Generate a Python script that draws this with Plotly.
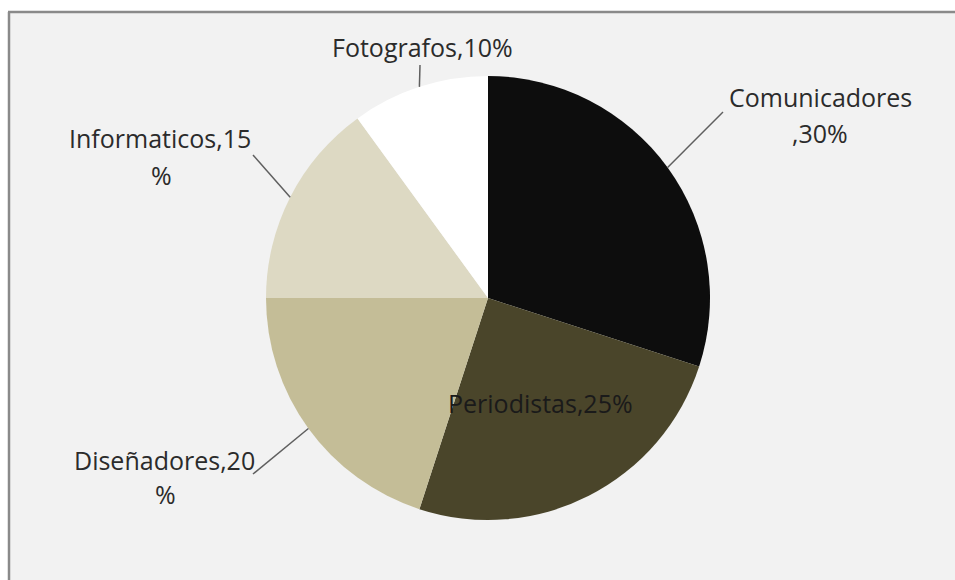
import math
import plotly.graph_objects as go

# datos del gráfico
categorias = ["Comunicadores", "Periodistas", "Diseñadores", "Informaticos", "Fotografos"]
porcentajes = [30, 25, 20, 15, 10]
colores = ["#0d0d0d", "#4a452a", "#c4bd97", "#ddd9c3", "#ffffff"]

W, H = 955, 580
CX, CY, R = 488, 298, 222  # centro y radio del pie en píxeles


def px(x):
    return x / W


def py(y):
    return 1 - y / H


fig = go.Figure(go.Pie(
    labels=categorias,
    values=porcentajes,
    marker=dict(colors=colores, line=dict(width=0)),
    sort=False,
    direction="clockwise",
    rotation=0,
    textinfo="none",
    hoverinfo="label+percent",
    showlegend=False,
    domain=dict(x=[px(CX - R), px(CX + R)], y=[py(CY + R), py(CY - R)]),
))

# ángulo medio de cada porción (desde las 12, sentido horario)
total = sum(porcentajes)
acum = 0
medios = []
for v in porcentajes:
    medios.append((acum + v / 2) / total * 2 * math.pi)
    acum += v


def borde(ang, f=1.0):
    return CX + f * R * math.sin(ang), CY - f * R * math.cos(ang)


txt_font = dict(family="Open Sans, Calibri, sans-serif", size=25, color="#2b2b2b")

# etiquetas exteriores: (líneas de texto con su centro, extremo de la línea guía)
exteriores = {
    "Comunicadores": ([("Comunicadores", 820, 97), (",30%", 820, 133)], (723, 112)),
    "Diseñadores": ([("Diseñadores,20", 164, 460), ("%", 165, 494)], (253, 474)),
    "Informaticos": ([("Informaticos,15", 160, 138), ("%", 161, 175)], (253, 155)),
    "Fotografos": ([("Fotografos,10%", 422, 47)], (420, 65)),
}


def texto(t, x, y, color="#2b2b2b"):
    fig.add_annotation(x=px(x), y=py(y), xref="paper", yref="paper",
                       text=t, showarrow=False, font=dict(txt_font, color=color),
                       xanchor="center", yanchor="middle")


for i, cat in enumerate(categorias):
    if cat in exteriores:
        lineas, (lx, ly) = exteriores[cat]
        bx, by = borde(medios[i])
        fig.add_shape(type="line", xref="paper", yref="paper",
                      x0=px(bx), y0=py(by), x1=px(lx), y1=py(ly),
                      line=dict(color="#5f5f5f", width=1.5))
        for t, x, y in lineas:
            texto(t, x, y)
    else:
        bx, by = borde(medios[i], 0.52)
        texto(f"{cat},{porcentajes[i]}%", bx, by + 2, color="#1a1a1a")

# marco estilo Excel (franja blanca arriba e izquierda, borde gris)
fig.add_shape(type="rect", xref="paper", yref="paper", x0=0, x1=1, y0=py(11), y1=1,
              fillcolor="white", line=dict(width=0), layer="below")
fig.add_shape(type="rect", xref="paper", yref="paper", x0=0, x1=px(8), y0=0, y1=1,
              fillcolor="white", line=dict(width=0), layer="below")
fig.add_shape(type="line", xref="paper", yref="paper", x0=px(8), x1=1, y0=py(12), y1=py(12),
              line=dict(color="#8a8a8a", width=2.5))
fig.add_shape(type="line", xref="paper", yref="paper", x0=px(9), x1=px(9), y0=0, y1=py(12),
              line=dict(color="#8a8a8a", width=2.5))

fig.update_layout(
    width=W, height=H,
    margin=dict(l=0, r=0, t=0, b=0),
    paper_bgcolor="#f2f2f2",
    plot_bgcolor="#f2f2f2",
)

# la figura ocupa toda la ventana: sin margen del body ni barras de desplazamiento
fig.write_html(
    "out.html",
    config={"displayModeBar": False},
    post_script="document.body.style.margin='0';"
                "document.documentElement.style.overflow='hidden';",
)
